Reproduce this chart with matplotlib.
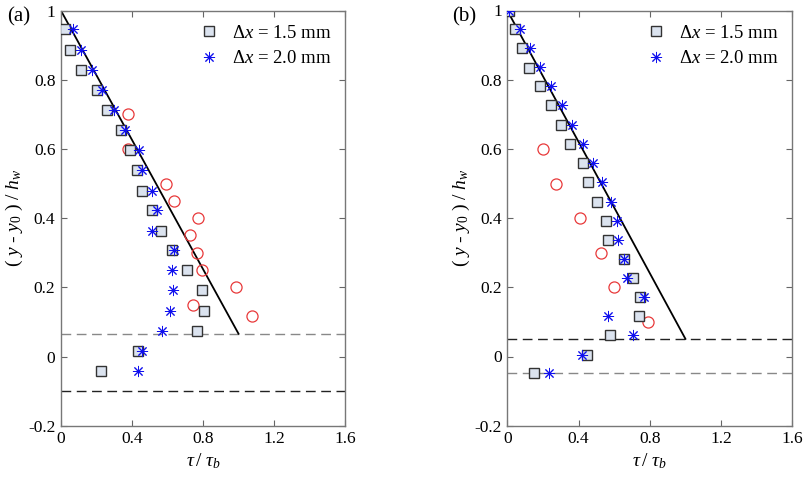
import matplotlib
matplotlib.use("Agg")
import matplotlib.pyplot as plt
import numpy as np

plt.rcParams['font.family'] = ['Liberation Serif', 'DejaVu Serif']
plt.rcParams['mathtext.fontset'] = 'custom'
plt.rcParams['mathtext.rm'] = 'Liberation Serif'
plt.rcParams['mathtext.it'] = 'Liberation Serif:italic'
plt.rcParams['mathtext.bf'] = 'Liberation Serif:bold'

# ---- panel (a) data ----
a_sq_x = [0.023, 0.051, 0.113, 0.201, 0.257, 0.336, 0.387, 0.426, 0.458, 0.514,
          0.563, 0.623, 0.712, 0.792, 0.808, 0.768, 0.432, 0.225]
a_sq_y = [0.946, 0.886, 0.828, 0.770, 0.712, 0.654, 0.597, 0.539, 0.479, 0.423,
          0.363, 0.307, 0.249, 0.192, 0.132, 0.074, 0.016, -0.041]
a_st_x = [0.069, 0.113, 0.173, 0.229, 0.300, 0.361, 0.441, 0.458, 0.511, 0.539,
          0.514, 0.638, 0.623, 0.633, 0.616, 0.571, 0.458, 0.432]
a_st_y = [0.946, 0.886, 0.828, 0.770, 0.712, 0.654, 0.597, 0.539, 0.479, 0.423,
          0.363, 0.307, 0.249, 0.192, 0.132, 0.074, 0.016, -0.041]
a_ci_x = [0.376, 0.379, 0.592, 0.638, 0.774, 0.727, 0.764, 0.792, 0.984, 0.745, 1.078]
a_ci_y = [0.700, 0.600, 0.500, 0.450, 0.400, 0.350, 0.300, 0.250, 0.200, 0.150, 0.117]
a_line_x = [0.0, 1.0]
a_line_y = [1.0, 0.066]
a_dash_hi = 0.066
a_dash_lo = -0.100

# ---- panel (b) data ----
b_sq_x = [0.011, 0.043, 0.081, 0.124, 0.181, 0.244, 0.300, 0.352, 0.423, 0.455,
          0.502, 0.555, 0.568, 0.653, 0.705, 0.746, 0.737, 0.574, 0.450, 0.152]
b_sq_y = [1.000, 0.947, 0.892, 0.835, 0.782, 0.726, 0.670, 0.615, 0.560, 0.504,
          0.447, 0.393, 0.338, 0.282, 0.226, 0.171, 0.117, 0.063, 0.005, -0.049]
b_st_x = [0.011, 0.069, 0.129, 0.185, 0.247, 0.307, 0.363, 0.425, 0.481, 0.531,
          0.583, 0.615, 0.619, 0.656, 0.671, 0.765, 0.563, 0.705, 0.420, 0.234]
b_st_y = [1.000, 0.947, 0.892, 0.837, 0.782, 0.726, 0.670, 0.615, 0.560, 0.504,
          0.447, 0.393, 0.338, 0.282, 0.226, 0.171, 0.117, 0.063, 0.005, -0.049]
b_ci_x = [0.200, 0.275, 0.410, 0.526, 0.600, 0.788]
b_ci_y = [0.600, 0.500, 0.400, 0.300, 0.200, 0.100]
b_line_x = [0.0, 1.0]
b_line_y = [1.0, 0.051]
b_dash_hi = 0.051
b_dash_lo = -0.049

xticks = [0, 0.4, 0.8, 1.2, 1.6]
xticklabels = ['0', '0.4', '0.8', '1.2', '1.6']
yticks = [-0.2, 0, 0.2, 0.4, 0.6, 0.8, 1.0]
yticklabels = ['-0.2', '0', '0.2', '0.4', '0.6', '0.8', '1']
legend_labels = [r'$\Delta x$ = 1.5 mm', r'$\Delta x$ = 2.0 mm']

W, H = 805, 478
fig = plt.figure(figsize=(W / 100, H / 100), dpi=100)

def ax_rect(l, r, t, b):
    return [l / W, 1 - b / H, (r - l) / W, (b - t) / H]

axA = fig.add_axes(ax_rect(61, 345, 10.7, 425.7))
axB = fig.add_axes(ax_rect(507.3, 792.3, 10.5, 425.7))

sq_face = '#dbe3ef'
sq_edge = '#333333'
star_c = '#1010ee'
circ_c = '#e8393a'
star_marker = (8, 2, 0)

def draw(ax, sx, sy, tx, ty, cx, cy, lx, ly, dhi, dlo, hi_col, lo_col):
    ax.axhline(dhi, color=hi_col, ls=(0, (7, 4)), lw=1.0, zorder=1)
    ax.axhline(dlo, color=lo_col, ls=(0, (7, 4)), lw=1.0, zorder=1)
    ax.plot(lx, ly, color='black', lw=1.3, zorder=2)
    ax.plot(cx, cy, ls='none', marker='o', ms=8, mfc='none', mec=circ_c, mew=0.9, zorder=3)
    ax.plot(sx, sy, ls='none', marker='s', ms=7, mfc=sq_face, mec=sq_edge, mew=1.0,
            zorder=4, label=legend_labels[0])
    ax.plot(tx, ty, ls='none', marker=star_marker, ms=8, color=star_c, mec=star_c, mew=0.7,
            zorder=5, label=legend_labels[1])
    ax.set_xlim(0, 1.6)
    ax.set_ylim(-0.2, 1.0)
    ax.set_xticks(xticks)
    ax.set_xticklabels(xticklabels)
    ax.set_yticks(yticks)
    ax.set_yticklabels(yticklabels)
    ax.tick_params(direction='in', top=True, right=True, length=4, width=0.8,
                   color='#666666', labelsize=12.5, pad=4)
    for s in ax.spines.values():
        s.set_color('#777777')
        s.set_linewidth(1.0)
    ax.set_xlabel(r'$\tau\,/\ \tau_b$', fontsize=14, labelpad=3)
    ax.set_ylabel(r'$(\ y\ $-$\ y_0\ )\ /\ h_w$', fontsize=14, labelpad=2)
    ax.legend(loc='upper right', frameon=False, fontsize=13.5, handletextpad=0.6,
              borderaxespad=0.35, labelspacing=0.45, handlelength=1.2)

draw(axA, a_sq_x, a_sq_y, a_st_x, a_st_y, a_ci_x, a_ci_y, a_line_x, a_line_y,
     a_dash_hi, a_dash_lo, '#888888', '#222222')
draw(axB, b_sq_x, b_sq_y, b_st_x, b_st_y, b_ci_x, b_ci_y, b_line_x, b_line_y,
     b_dash_hi, b_dash_lo, '#222222', '#888888')

fig.text(7 / W, 1 - 17 / H, '(a)', fontsize=15, va='center', ha='left')
fig.text(452 / W, 1 - 17 / H, '(b)', fontsize=15, va='center', ha='left')

fig.savefig('out.png', dpi=100)
